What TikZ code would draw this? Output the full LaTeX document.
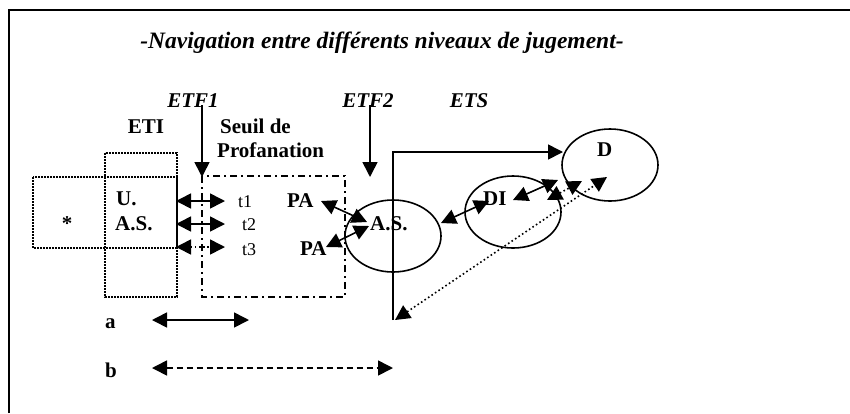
\documentclass[tikz,border=0pt]{standalone}
\usepackage{fontspec}
\setmainfont{Liberation Serif}
\usetikzlibrary{arrows.meta,shapes.geometric}

\begin{document}
\begin{tikzpicture}[x=1pt,y=-1pt,
  lbl/.style={font=\fontsize{21}{24}\selectfont\bfseries, inner sep=0pt},
  ilbl/.style={font=\fontsize{21}{24}\selectfont\bfseries\itshape, inner sep=0pt},
  tlbl/.style={font=\fontsize{18}{20}\selectfont, inner sep=0pt},
  ln/.style={line width=1.6pt},
  head/.tip={Triangle[length=15pt,width=15pt]},
  tip/.style={ln,-head},
  both/.style={ln,head-head},
  dotbox/.style={draw, line width=1.6pt, dash pattern=on 1.6pt off 1.4pt},
  dashdot/.style={draw, line width=1.6pt, dash pattern=on 7pt off 4pt on 2pt off 4pt},
  dots/.style={dash pattern=on 1.6pt off 2.6pt},
  ell/.style={ellipse, draw, line width=1.6pt, minimum width=96pt, minimum height=72pt, inner sep=0pt}
]
\useasboundingbox (0,0) rectangle (850,413);

% outer frame (top and left edges)
\draw[line width=1.8pt] (9,413) -- (9,10) -- (850,10);

% title and level labels
\node[font=\fontsize{23.5}{27}\selectfont\bfseries\itshape, inner sep=0pt, anchor=base] (title) at (382,48) {-Navigation entre différents niveaux de jugement-};
\node[ilbl, anchor=base] (etf1) at (193,107) {ETF1};
\node[ilbl, anchor=base] (etf2) at (368,107) {ETF2};
\node[ilbl, anchor=base] (ets) at (469,107) {ETS};
\node[lbl, anchor=base] (eti) at (146,133) {ETI};
\node[lbl, anchor=base west] (seuil) at (220,133) {Seuil de};
\node[lbl, anchor=base west] (profa) at (217,157) {Profanation};

% ETI cross of dotted boxes
\draw[dotbox] (105,153) rectangle (177,297);
\draw[dotbox] (33,177) rectangle (177,248);
\node[lbl] (star) at (67,224) {*};
\node[lbl, anchor=base west] (u) at (116,205) {U.};
\node[lbl, anchor=base west] (asl) at (115,230) {A.S.};

% threshold box
\draw[dashdot] (202,176) rectangle (345,297);

% ETF arrows
\coordinate (etf1a) at (202,105);
\coordinate (etf1b) at (202,177);
\coordinate (etf2a) at (370,105);
\coordinate (etf2b) at (370,177);
\draw[tip] (etf1a) -- (etf1b);
\draw[tip] (etf2a) -- (etf2b);

% transitions t1..t3
\node[tlbl, anchor=base west] (t1) at (238,207) {t1};
\node[tlbl, anchor=base west] (t2) at (242,230) {t2};
\node[tlbl, anchor=base west] (t3) at (242,255) {t3};
\coordinate (l1) at (176,201); \coordinate (r1) at (225,201);
\coordinate (l2) at (176,224); \coordinate (r2) at (225,224);
\coordinate (l3) at (176,247); \coordinate (r3) at (225,247);
\draw[both] (l1) -- (r1);
\draw[both] (l2) -- (r2);
\draw[both, dots] (l3) -- (r3);

% PA labels
\node[lbl, anchor=base west] (pa1) at (287,207) {PA};
\node[lbl, anchor=base west] (pa2) at (300,255) {PA};

% ellipses
\node[ell] (as) at (393,236) {};
\node[ell] (di) at (513,212) {};
\node[ell] (d) at (610,165) {};
\node[lbl, anchor=base west] (astx) at (370,230) {A.S.};
\node[lbl, anchor=base west] (ditx) at (483,205) {DI};
\node[lbl, anchor=base west] (dtx) at (597,156) {D};

% links around A.S.
\coordinate (pa1e) at (321,201); \coordinate (as1) at (367,222);
\coordinate (pa2e) at (326,247); \coordinate (as2) at (369,226);
\draw[both] (pa1e) -- (as1);
\draw[both] (pa2e) -- (as2);
\coordinate (asr) at (441,223); \coordinate (dil) at (489,201);
\draw[both] (asr) -- (dil);

% path from A.S. up to D
\coordinate (asbot) at (393,320);
\coordinate (asup) at (393,152);
\coordinate (dleft) at (563,152);
\draw[tip] (asbot) -- (asup) -- (dleft);

% DI <-> D
\coordinate (dir) at (513,200); \coordinate (dl1) at (558,180);
\draw[both] (dir) -- (dl1);
\coordinate (dl2) at (547,200); \coordinate (dl3) at (582,181);
\draw[both, dots] (dl2) -- (dl3);

% dotted return from D
\coordinate (dret) at (607,177); \coordinate (asret) at (395,320);
\draw[both, dots] (asret) -- (dret);

% legend
\node[lbl, anchor=base west] (la) at (105,328) {a};
\node[lbl, anchor=base west] (lb) at (105,377) {b};
\coordinate (a1) at (152,320); \coordinate (a2) at (249,320);
\coordinate (b1) at (152,368); \coordinate (b2) at (393,368);
\draw[both] (a1) -- (a2);
\draw[both, dash pattern=on 6pt off 4pt] (b1) -- (b2);
\end{tikzpicture}
\end{document}
